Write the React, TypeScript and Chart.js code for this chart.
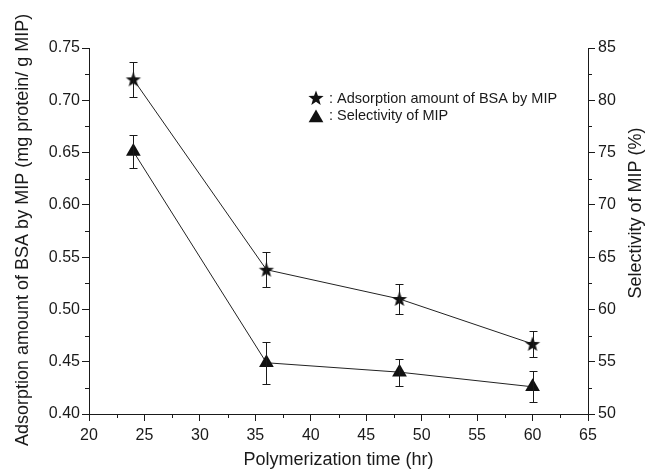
import React, { useEffect, useRef } from "react";
import { Chart, registerables } from "chart.js";

Chart.register(...registerables);

const times = [24, 36, 48, 60];
const adsorption = [0.72, 0.538, 0.51, 0.467];
const adsorptionErr = [0.017, 0.017, 0.0143, 0.0124];
const selectivity = [75.1, 54.9, 54.0, 52.6];
const selectivityErr = [1.6, 2.0, 1.3, 1.5];

const xTicks = [20, 25, 30, 35, 40, 45, 50, 55, 60, 65];
const leftTicks = [0.4, 0.45, 0.5, 0.55, 0.6, 0.65, 0.7, 0.75];
const rightTicks = [50, 55, 60, 65, 70, 75, 80, 85];

const xTitle = "Polymerization time (hr)";
const leftTitle = "Adsorption amount of BSA by MIP (mg protein/ g MIP)";
const rightTitle = "Selectivity of MIP (%)";
const legendLabels = [": Adsorption amount of BSA by MIP", ": Selectivity of MIP"];

const FONT = "'Liberation Sans', Arial, Helvetica, sans-serif";
const INK = "#1a1a1a";

function drawStarPath(ctx: CanvasRenderingContext2D, cx: number, cy: number, ro: number, ri: number) {
  ctx.beginPath();
  for (let i = 0; i < 10; i++) {
    const r = i % 2 === 0 ? ro : ri;
    const a = -Math.PI / 2 + (i * Math.PI) / 5;
    const x = cx + r * Math.cos(a);
    const y = cy + r * Math.sin(a);
    if (i === 0) ctx.moveTo(x, y);
    else ctx.lineTo(x, y);
  }
  ctx.closePath();
}

function makeStar(): HTMLCanvasElement {
  const c = document.createElement("canvas");
  c.width = 18;
  c.height = 18;
  const ctx = c.getContext("2d")!;
  ctx.fillStyle = "#111";
  drawStarPath(ctx, 9, 9.6, 8, 3.3);
  ctx.fill();
  return c;
}

function drawTriangle(ctx: CanvasRenderingContext2D, x: number, y: number, r: number) {
  ctx.beginPath();
  for (let i = 0; i < 3; i++) {
    const a = (i * 2 * Math.PI) / 3;
    const px = x + Math.sin(a) * r;
    const py = y - Math.cos(a) * r;
    if (i === 0) ctx.moveTo(px, py);
    else ctx.lineTo(px, py);
  }
  ctx.closePath();
  ctx.fill();
}

const errorBarsPlugin = {
  id: "errorBars",
  afterDatasetsDraw(chart: any) {
    const ctx = chart.ctx;
    ctx.save();
    ctx.strokeStyle = INK;
    ctx.lineWidth = 1;
    chart.data.datasets.forEach((ds: any, i: number) => {
      const yScale = chart.scales[ds.yAxisID];
      const xScale = chart.scales.x;
      ds.data.forEach((pt: any, j: number) => {
        const e = ds.errors[j];
        const x = Math.round(xScale.getPixelForValue(pt.x)) + 0.5;
        const yTop = Math.round(yScale.getPixelForValue(pt.y + e)) + 0.5;
        const yBot = Math.round(yScale.getPixelForValue(pt.y - e)) + 0.5;
        ctx.beginPath();
        ctx.moveTo(x, yTop);
        ctx.lineTo(x, yBot);
        ctx.moveTo(x - 4, yTop);
        ctx.lineTo(x + 4, yTop);
        ctx.moveTo(x - 4, yBot);
        ctx.lineTo(x + 4, yBot);
        ctx.stroke();
      });
    });
    ctx.restore();
  },
};

const decorPlugin = {
  id: "decor",
  afterDraw(chart: any) {
    const ctx = chart.ctx;
    const xs = chart.scales.x;
    const yl = chart.scales.yLeft;
    const yr = chart.scales.yRight;
    const area = chart.chartArea;
    ctx.save();
    ctx.strokeStyle = INK;
    ctx.lineWidth = 1;
    // minor ticks
    ctx.beginPath();
    for (let i = 0; i < xTicks.length - 1; i++) {
      const v = (xTicks[i] + xTicks[i + 1]) / 2;
      const x = Math.round(xs.getPixelForValue(v)) + 0.5;
      ctx.moveTo(x, area.bottom);
      ctx.lineTo(x, area.bottom + 4);
    }
    for (let i = 0; i < leftTicks.length - 1; i++) {
      const v = (leftTicks[i] + leftTicks[i + 1]) / 2;
      const y = Math.round(yl.getPixelForValue(v)) + 0.5;
      ctx.moveTo(area.left, y);
      ctx.lineTo(area.left - 4, y);
    }
    for (let i = 0; i < rightTicks.length - 1; i++) {
      const v = (rightTicks[i] + rightTicks[i + 1]) / 2;
      const y = Math.round(yr.getPixelForValue(v)) + 0.5;
      ctx.moveTo(area.right, y);
      ctx.lineTo(area.right + 4, y);
    }
    ctx.stroke();

    // titles
    ctx.fillStyle = INK;
    ctx.font = `18px ${FONT}`;
    ctx.textBaseline = "alphabetic";
    ctx.textAlign = "center";
    ctx.fillText(xTitle, (area.left + area.right) / 2, 465);

    ctx.save();
    ctx.translate(28, 446);
    ctx.rotate(-Math.PI / 2);
    ctx.textAlign = "left";
    ctx.fillText(leftTitle, 0, 0);
    ctx.restore();

    ctx.save();
    ctx.translate(641, 213);
    ctx.rotate(-Math.PI / 2);
    ctx.textAlign = "center";
    ctx.fillText(rightTitle, 0, 0);
    ctx.restore();

    // legend
    ctx.fillStyle = "#111";
    drawStarPath(ctx, 316, 98.5, 8, 3.3);
    ctx.fill();
    drawTriangle(ctx, 316, 118, 8.5);
    ctx.fillStyle = INK;
    ctx.font = `14.5px ${FONT}`;
    ctx.textAlign = "left";
    ctx.textBaseline = "middle";
    ctx.fillText(legendLabels[0], 329, 99);
    ctx.fillText(legendLabels[1], 329, 116);
    ctx.restore();
  },
};

export default function App() {
  const ref = useRef<HTMLCanvasElement | null>(null);
  useEffect(() => {
    if (!ref.current) return;
    const star = makeStar();
    const axisCommon = {
      grid: { display: true, drawOnChartArea: false, drawTicks: true, tickLength: 7, color: INK, lineWidth: 1 },
      border: { display: true, color: INK, width: 1 },
    };
    const chart = new Chart(ref.current, {
      type: "line",
      data: {
        datasets: [
          {
            label: "Adsorption amount of BSA by MIP",
            data: times.map((t, i) => ({ x: t, y: adsorption[i] })),
            errors: adsorptionErr,
            yAxisID: "yLeft",
            borderColor: "#222",
            borderWidth: 1,
            pointStyle: star,
            pointRadius: 8,
            backgroundColor: "#111",
            tension: 0,
          } as any,
          {
            label: "Selectivity of MIP",
            data: times.map((t, i) => ({ x: t, y: selectivity[i] })),
            errors: selectivityErr,
            yAxisID: "yRight",
            borderColor: "#222",
            borderWidth: 1,
            pointStyle: "triangle",
            pointRadius: 8.5,
            pointBackgroundColor: "#111",
            pointBorderColor: "#111",
            pointBorderWidth: 0,
            tension: 0,
          } as any,
        ],
      },
      options: {
        animation: false,
        responsive: false,
        devicePixelRatio: 1,
        layout: { padding: { top: 48, left: 0, right: 0, bottom: 0 } },
        plugins: { legend: { display: false }, tooltip: { enabled: false } },
        scales: {
          x: {
            type: "linear",
            min: 20,
            max: 65,
            ...axisCommon,
            afterBuildTicks: (s: any) => {
              s.ticks = xTicks.map((v) => ({ value: v }));
            },
            afterFit: (s: any) => {
              s.height = 57;
            },
            ticks: { font: { size: 16, family: FONT }, color: INK, padding: 5, maxRotation: 0, autoSkip: false },
          },
          yLeft: {
            type: "linear",
            position: "left",
            min: 0.4,
            max: 0.75,
            ...axisCommon,
            afterBuildTicks: (s: any) => {
              s.ticks = leftTicks.map((v) => ({ value: v }));
            },
            afterFit: (s: any) => {
              s.width = 89;
            },
            ticks: {
              font: { size: 16, family: FONT },
              color: INK,
              padding: 2,
              autoSkip: false,
              callback: (v: any) => Number(v).toFixed(2),
            },
          },
          yRight: {
            type: "linear",
            position: "right",
            min: 50,
            max: 85,
            ...axisCommon,
            afterBuildTicks: (s: any) => {
              s.ticks = rightTicks.map((v) => ({ value: v }));
            },
            afterFit: (s: any) => {
              s.width = 58;
            },
            ticks: { font: { size: 16, family: FONT }, color: INK, padding: 3, autoSkip: false },
          },
        },
      } as any,
      plugins: [errorBarsPlugin, decorPlugin],
    });
    return () => chart.destroy();
  }, []);
  return (
    <div style={{ position: "absolute", left: 0, top: 0, width: 646, height: 471, background: "#fff" }}>
      <canvas ref={ref} width={646} height={471} style={{ display: "block" }} />
    </div>
  );
}
